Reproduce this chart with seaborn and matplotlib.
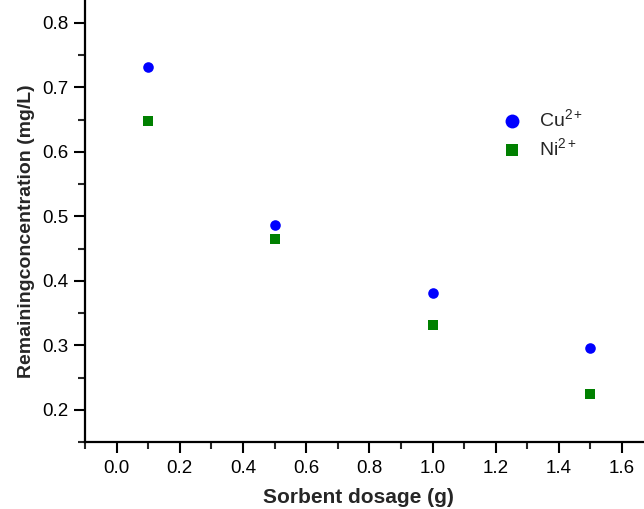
import matplotlib
matplotlib.use("Agg")
import matplotlib.pyplot as plt
import seaborn as sns
import pandas as pd
from matplotlib.ticker import MultipleLocator

# Data
dosage = [0.1, 0.5, 1.0, 1.5]
cu_conc = [0.732, 0.487, 0.381, 0.295]
ni_conc = [0.647, 0.464, 0.331, 0.224]
series_labels = ["Cu$^{2+}$", "Ni$^{2+}$"]
x_ticks = [0.0, 0.2, 0.4, 0.6, 0.8, 1.0, 1.2, 1.4, 1.6]
y_ticks = [0.2, 0.3, 0.4, 0.5, 0.6, 0.7, 0.8]

df_cu = pd.DataFrame({"dosage": dosage, "conc": cu_conc})
df_ni = pd.DataFrame({"dosage": dosage, "conc": ni_conc})

sns.set_style("ticks")
plt.rcParams["font.family"] = ["Liberation Sans", "DejaVu Sans"]
plt.rcParams["mathtext.fontset"] = "custom"
plt.rcParams["mathtext.rm"] = "Liberation Sans"
plt.rcParams["mathtext.it"] = "Liberation Sans:italic"
plt.rcParams["mathtext.bf"] = "Liberation Sans:bold"

fig = plt.figure(figsize=(6.44, 5.09), dpi=100)
ax = fig.add_axes([0.132, 0.1316, 0.883, 0.887])

sns.scatterplot(data=df_cu, x="dosage", y="conc", color="#0000FF", marker="o",
                s=58, linewidth=0, ax=ax, label=series_labels[0])
sns.scatterplot(data=df_ni, x="dosage", y="conc", color="#008000", marker="s",
                s=42, linewidth=0, ax=ax, label=series_labels[1])

ax.set_xlim(-0.1, 1.7)
ax.set_ylim(0.15, 0.85)
ax.set_xticks(x_ticks)
ax.set_yticks(y_ticks)
ax.xaxis.set_minor_locator(MultipleLocator(0.1))
ax.yaxis.set_minor_locator(MultipleLocator(0.05))
ax.tick_params(which="major", direction="out", length=8, width=1.5, labelsize=13.5, colors="black")
ax.tick_params(which="minor", direction="out", length=5, width=1.5)
ax.tick_params(axis="x", pad=5)
ax.tick_params(axis="y", pad=4)
for s in ["left", "bottom"]:
    ax.spines[s].set_linewidth(1.6)
    ax.spines[s].set_color("black")
ax.spines["top"].set_visible(False)
ax.spines["right"].set_visible(False)

ax.set_xlabel("Sorbent dosage (g)", fontsize=15, fontweight="bold", labelpad=8)
ax.set_ylabel("Remainingconcentration (mg/L)", fontsize=14, fontweight="bold", labelpad=5)
ax.xaxis.label.set_x(0.481)
ax.yaxis.label.set_y(0.467)

handles, labels = ax.get_legend_handles_labels()
leg = ax.legend(handles=handles, labels=labels, loc="upper left",
                bbox_to_anchor=(490 / 644, 1 - 100 / 509), bbox_transform=fig.transFigure,
                frameon=False, fontsize=14, handletextpad=0.6, labelspacing=0.4,
                borderaxespad=0, handlelength=1.5)
leg.legend_handles[0].set_sizes([100])
leg.legend_handles[1].set_sizes([64])

fig.savefig("out.png", dpi=100)
